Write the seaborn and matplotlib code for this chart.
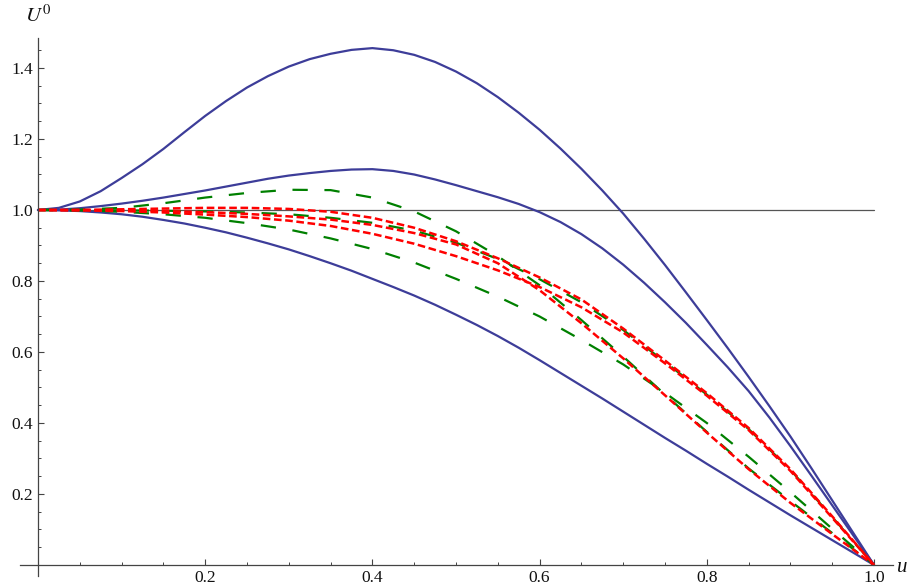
import matplotlib
matplotlib.use("Agg")
import matplotlib.pyplot as plt
import seaborn as sns
from matplotlib.ticker import FixedLocator, MultipleLocator

# ---------------- data ----------------
# fine grid for the solid (blue) curves
u_fine = [0.000, 0.025, 0.050, 0.075, 0.100, 0.125, 0.150, 0.175, 0.200, 0.225,
          0.250, 0.275, 0.300, 0.325, 0.350, 0.375, 0.400, 0.425, 0.450, 0.475,
          0.500, 0.525, 0.550, 0.575, 0.600, 0.625, 0.650, 0.675, 0.700, 0.725,
          0.750, 0.775, 0.800, 0.825, 0.850, 0.875, 0.900, 0.925, 0.950, 0.975, 1.000]

blue_top = [1.000, 1.006, 1.024, 1.053, 1.090, 1.129, 1.172, 1.219, 1.265, 1.307,
            1.345, 1.377, 1.404, 1.425, 1.440, 1.451, 1.456, 1.450, 1.437, 1.417,
            1.390, 1.357, 1.318, 1.274, 1.226, 1.173, 1.116, 1.055, 0.990, 0.919,
            0.845, 0.768, 0.690, 0.611, 0.530, 0.447, 0.362, 0.273, 0.182, 0.091, 0.000]
blue_mid = [1.000, 1.001, 1.005, 1.011, 1.018, 1.026, 1.035, 1.045, 1.055, 1.066,
            1.077, 1.088, 1.097, 1.104, 1.110, 1.114, 1.115, 1.110, 1.100, 1.086,
            1.070, 1.053, 1.036, 1.017, 0.994, 0.966, 0.932, 0.892, 0.846, 0.795,
            0.740, 0.682, 0.620, 0.557, 0.490, 0.415, 0.335, 0.252, 0.168, 0.084, 0.000]
blue_bot = [1.000, 0.999, 0.997, 0.993, 0.988, 0.981, 0.972, 0.962, 0.950, 0.937,
            0.922, 0.906, 0.889, 0.870, 0.850, 0.829, 0.806, 0.783, 0.759, 0.733,
            0.705, 0.676, 0.645, 0.612, 0.577, 0.541, 0.505, 0.469, 0.432, 0.395,
            0.358, 0.322, 0.285, 0.249, 0.212, 0.176, 0.140, 0.105, 0.070, 0.035, 0.000]

# coarser grid for the dashed curves
u = [0.00, 0.05, 0.10, 0.15, 0.20, 0.25, 0.30, 0.35, 0.40, 0.45, 0.50,
     0.55, 0.60, 0.65, 0.70, 0.75, 0.80, 0.85, 0.90, 0.95, 1.00]

green_top = [1.000, 1.001, 1.006, 1.019, 1.035, 1.048, 1.057, 1.056, 1.035, 0.996, 0.940,
             0.870, 0.788, 0.690, 0.587, 0.480, 0.375, 0.272, 0.180, 0.090, 0.000]
green_mid = [1.000, 1.000, 0.999, 0.998, 0.996, 0.993, 0.988, 0.978, 0.964, 0.942, 0.908,
             0.862, 0.805, 0.740, 0.662, 0.572, 0.480, 0.383, 0.268, 0.135, 0.000]
green_bot = [1.000, 0.999, 0.995, 0.988, 0.978, 0.963, 0.945, 0.920, 0.890, 0.852, 0.806,
             0.756, 0.700, 0.634, 0.565, 0.485, 0.400, 0.305, 0.205, 0.102, 0.000]

red_a = [1.000, 1.000, 1.002, 1.004, 1.006, 1.006, 1.003, 0.995, 0.978, 0.950, 0.912,
         0.864, 0.810, 0.748, 0.666, 0.576, 0.484, 0.386, 0.270, 0.137, 0.000]
red_b = [1.000, 1.000, 0.999, 0.997, 0.994, 0.989, 0.982, 0.973, 0.958, 0.935, 0.903,
         0.850, 0.774, 0.681, 0.582, 0.478, 0.373, 0.270, 0.175, 0.087, 0.000]
red_c = [1.000, 0.999, 0.997, 0.993, 0.987, 0.980, 0.970, 0.955, 0.933, 0.905, 0.870,
         0.830, 0.783, 0.726, 0.655, 0.568, 0.477, 0.380, 0.265, 0.133, 0.000]

ref_level = [1.0, 1.0]

x_ticks = [0.2, 0.4, 0.6, 0.8, 1.0]
x_tick_labels = ["0.2", "0.4", "0.6", "0.8", "1.0"]
y_ticks = [0.2, 0.4, 0.6, 0.8, 1.0, 1.2, 1.4]
y_tick_labels = ["0.2", "0.4", "0.6", "0.8", "1.0", "1.2", "1.4"]

# ---------------- style ----------------
sns.set_theme(style="white")
plt.rcParams["font.family"] = ["Liberation Serif", "DejaVu Serif"]
plt.rcParams["mathtext.fontset"] = "stix"
plt.rcParams["lines.scale_dashes"] = False

BLUE = "#3d3d99"
GREEN = "#008000"
RED = "#ff0000"
AXC = "#444444"

fig = plt.figure(figsize=(9.15, 5.85), dpi=100)
ax = fig.add_axes([20 / 915, 9 / 585, 873 / 915, 538 / 585])

# reference line U = 1
sns.lineplot(x=[u[0], u[-1]], y=ref_level, ax=ax, color="#555555", linewidth=0.9)

for ys in (blue_top, blue_mid, blue_bot):
    sns.lineplot(x=u_fine, y=ys, ax=ax, color=BLUE, linewidth=1.6)

for ys in (green_top, green_mid, green_bot):
    sns.lineplot(x=u, y=ys, ax=ax, color=GREEN, linewidth=1.6,
                 linestyle=(0, (11, 12)))

for ys in (red_a, red_b, red_c):
    sns.lineplot(x=u, y=ys, ax=ax, color=RED, linewidth=1.8,
                 linestyle=(0, (5.5, 2.6)))

ax.set_xlim(-0.0215, 1.0227)
ax.set_ylim(-0.031, 1.4845)
ax.set_xlabel("")
ax.set_ylabel("")

for s in ("top", "right"):
    ax.spines[s].set_visible(False)
for s in ("left", "bottom"):
    ax.spines[s].set_position(("data", 0))
    ax.spines[s].set_color(AXC)
    ax.spines[s].set_linewidth(0.9)

ax.xaxis.set_major_locator(FixedLocator(x_ticks))
ax.xaxis.set_minor_locator(MultipleLocator(0.05))
ax.set_xticklabels(x_tick_labels)
ax.yaxis.set_major_locator(FixedLocator(y_ticks))
ax.yaxis.set_minor_locator(MultipleLocator(0.05))
ax.set_yticklabels(y_tick_labels)

ax.tick_params(which="major", direction="in", length=4.0, width=0.8, color=AXC,
               labelsize=12.5, labelcolor="#111111", pad=3.5)
ax.tick_params(which="minor", direction="in", length=2.2, width=0.7, color=AXC)
ax.tick_params(axis="both", which="both", bottom=True, left=True)

fig.text(38 / 915, 1 - 16 / 585, r"$U^0$", ha="center", va="center", fontsize=15,
         color="#111111")
fig.text(902 / 915, 1 - 567 / 585, "u", ha="center", va="center", fontsize=15,
         style="italic", color="#111111")

fig.savefig("out.png", dpi=100, facecolor="white")
